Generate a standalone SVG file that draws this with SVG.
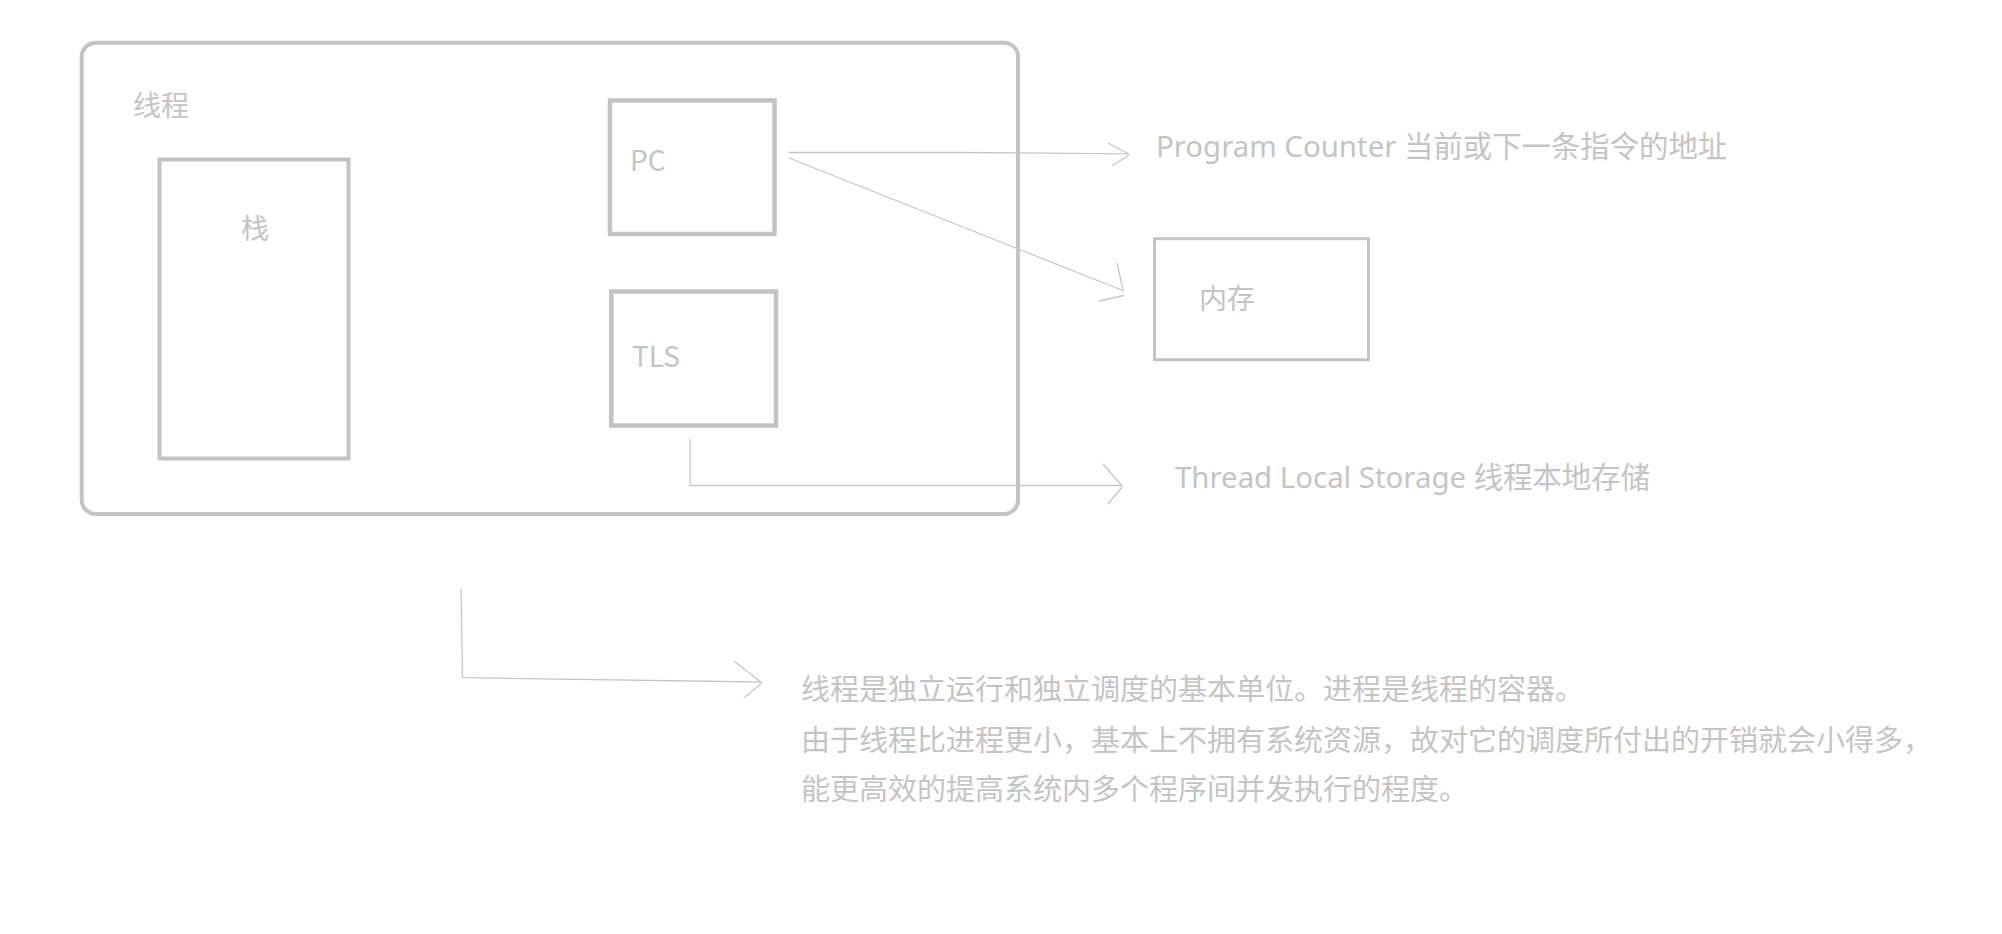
<svg xmlns="http://www.w3.org/2000/svg" width="2002" height="934" viewBox="0 0 2002 934">
<style>
.box{fill:none;stroke:#c3c3c3;stroke-width:4}
.thin{fill:none;stroke:#c6c6c6;stroke-width:1.3}
.t{font-family:"Noto Sans CJK SC","Noto Sans",sans-serif;font-size:28px;fill:#c4c4c4}
.lab{font-size:29.4px}
.l{font-family:"Noto Sans","Noto Sans CJK SC",sans-serif}
.p{font-family:"Noto Sans CJK SC","Noto Sans",sans-serif;font-size:29px;fill:#c4c4c4}
</style>
<rect width="2002" height="934" fill="#ffffff"/>
<g id="thread">
<rect class="box" x="81.7" y="42.7" width="936.3" height="471.3" rx="14" ry="14"/>
<text class="t" x="133" y="116">线程</text>
</g>
<g id="stack">
<rect class="box" x="159.5" y="159.5" width="189" height="299"/>
<text class="t" x="241" y="239">栈</text>
</g>
<g id="pc">
<rect class="box" x="610" y="100.5" width="164.5" height="133.5" style="stroke-width:4.5"/>
<text class="t" x="630" y="171">PC</text>
</g>
<g id="tls">
<rect class="box" x="611.3" y="291.5" width="164.7" height="134" style="stroke-width:4.5"/>
<text class="t" x="632" y="367">TLS</text>
</g>
<g id="memory">
<rect class="box" x="1154.5" y="238.7" width="214" height="121" style="stroke-width:3"/>
<text class="t" x="1199" y="309">内存</text>
</g>
<g id="pc-label">
<text class="t lab" x="1156" y="157"><tspan class="l">Program Counter </tspan>当前或下一条指令的地址</text>
</g>
<g id="tls-label">
<text class="t lab" x="1175" y="487.5"><tspan class="l">Thread Local Storage </tspan>线程本地存储</text>
</g>
<g id="note">
<text class="p" x="801" y="700">线程是独立运行和独立调度的基本单位。进程是线程的容器。</text>
<text class="p" x="801" y="751">由于线程比进程更小，基本上不拥有系统资源，故对它的调度所付出的开销就会小得多，</text>
<text class="p" x="801" y="799.5">能更高效的提高系统内多个程序间并发执行的程度。</text>
</g>
<g id="connectors">
<path class="thin" d="M789,152.5 L960,152.5 L1129,153.8"/>
<path class="thin" d="M1108,143 L1129,154 M1112,166 L1129,155"/>
<path class="thin" d="M789,158 L1124,291"/>
<path class="thin" d="M1117,263 L1123,290 M1099,301 L1124,295.5"/>
<path class="thin" d="M690,439 L690,485.5 L1122,485.5"/>
<path class="thin" d="M1103,464 L1122,486 M1108,504 L1122,487"/>
<path class="thin" d="M461,589 L462.5,677.7 L761.7,682"/>
<path class="thin" d="M734,661 L761.7,682.7 M744,698 L761.7,683.3"/>
</g>
</svg>
